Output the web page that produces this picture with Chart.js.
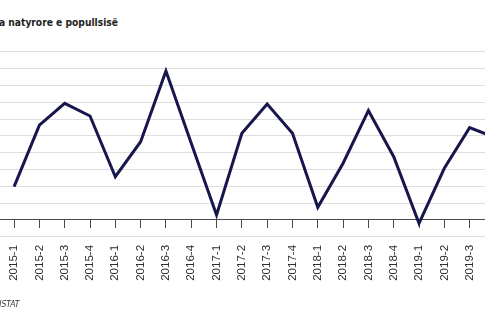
<!DOCTYPE html>
<html lang="sq">
<head>
<meta charset="utf-8">
<title>Rritja natyrore e popullsisë</title>
<script src="https://cdn.jsdelivr.net/npm/chart.js@4/dist/chart.umd.min.js"></script>
<style>
  html, body { margin: 0; padding: 0; background: #fff; }
  body { width: 485px; height: 325px; position: relative; overflow: hidden; }
  #wrap { position: absolute; left: -30px; top: 0; width: 556px; height: 325px; }
  .title {
    position: absolute; top: 17px; right: 367px; white-space: nowrap;
    font-family: "DejaVu Sans Condensed", "Liberation Sans", sans-serif;
    font-stretch: condensed; font-weight: bold; font-size: 10.2px; color: #1e1e1e;
  }
  .source {
    position: absolute; top: 299px; right: 465.5px; white-space: nowrap;
    font-family: "DejaVu Sans Condensed", "Liberation Sans", sans-serif;
    font-stretch: condensed; font-style: italic; font-size: 8.5px; color: #333;
  }
</style>
</head>
<body>
<div class="title">Rritja natyrore e popullsisë</div>
<div id="wrap"><canvas id="chart" width="556" height="325"></canvas></div>
<div class="source">Burimi: INSTAT</div>
<script>
// Quarters shown on the horizontal axis
const quarters = [
  '2015-1', '2015-2', '2015-3', '2015-4',
  '2016-1', '2016-2', '2016-3', '2016-4',
  '2017-1', '2017-2', '2017-3', '2017-4',
  '2018-1', '2018-2', '2018-3', '2018-4',
  '2019-1', '2019-2', '2019-3', '2019-4'
];

// Natural increase per quarter, in gridline units
const naturalIncrease = [
  1.98, 5.64, 6.93, 6.18,
  2.57, 4.65, 8.85, 4.56,
  0.30, 5.15, 6.89, 5.15,
  0.75, 3.37, 6.50, 3.76,
  -0.20, 3.07, 5.49, 4.90
];

// Value axis range and gridline step
const yRange = { min: -1, max: 10, step: 1 };

const axisColor = '#4a4a4a';
const gridColor = '#dedede';
const lineColor = '#17174d';

new Chart(document.getElementById('chart'), {
  type: 'line',
  data: {
    labels: quarters,
    datasets: [{
      data: naturalIncrease,
      borderColor: lineColor,
      borderWidth: 3,
      pointRadius: 0,
      tension: 0,
      fill: false,
      clip: false
    }]
  },
  options: {
    responsive: false,
    animation: false,
    // the value-anchored x axis takes no room of its own, so the bottom padding keeps space for its labels
    layout: { padding: { top: 51.7, bottom: 88.2, left: 0, right: 10.16 } },
    plugins: { legend: { display: false }, tooltip: { enabled: false } },
    scales: {
      x: {
        type: 'category',
        offset: true,
        position: { y: 0 },
        grid: {
          drawOnChartArea: false,
          drawTicks: true,
          tickLength: 8,
          color: axisColor,
          lineWidth: 1
        },
        border: { display: true, color: axisColor, width: 1 },
        ticks: {
          autoSkip: false,
          minRotation: 90,
          maxRotation: 90,
          padding: 17,
          color: '#2e2e2e',
          font: { family: '"Liberation Sans", Arial, sans-serif', size: 11.5 }
        }
      },
      y: {
        min: yRange.min,
        max: yRange.max,
        afterFit(scale) { scale.width = 31.44; },
        grid: {
          drawTicks: true,
          tickLength: 12,
          lineWidth: 1,
          color: ctx => (ctx.tick && ctx.tick.value === 0 ? axisColor : gridColor)
        },
        border: { display: false },
        ticks: { display: false, stepSize: yRange.step }
      }
    }
  }
});
</script>
</body>
</html>
